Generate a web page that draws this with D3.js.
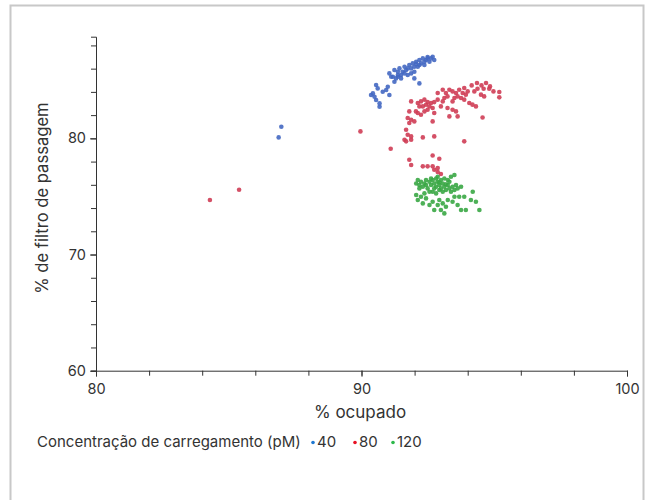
<!DOCTYPE html>
<html>
<head>
<meta charset="utf-8">
<script src="https://cdn.jsdelivr.net/npm/d3@7"></script>
<style>
  body { margin: 0; background: #fff; font-family: Inter, "Noto Sans", sans-serif; }
  svg text { fill: #333; }
</style>
</head>
<body>
<div id="chart"></div>
<script>
// loading concentration 40 pM: [% ocupado, % de filtro de passagem]
const conc40 = [
  [86.88, 80.08], [86.98, 81.0],
  [90.55, 84.59], [90.61, 84.30], [90.43, 83.87], [90.49, 83.58], [90.55, 83.30],
  [90.68, 83.01], [90.68, 82.72], [90.36, 83.73], [90.80, 84.01], [90.99, 84.44],
  [91.05, 83.73], [91.24, 84.87], [91.37, 85.30], [91.99, 85.16], [92.18, 84.73],
  [90.93, 84.16], [91.05, 85.59], [91.18, 85.30], [91.24, 85.88], [91.30, 85.16],
  [91.37, 85.73], [91.43, 86.02], [91.49, 85.45], [91.49, 85.16], [91.55, 85.73],
  [91.62, 86.16], [91.68, 85.88], [91.74, 85.45], [91.74, 86.02], [91.80, 86.31],
  [91.87, 86.02], [91.87, 85.59], [91.93, 86.45], [91.99, 85.73], [92.06, 86.60],
  [92.12, 86.16], [92.18, 86.74], [92.24, 86.45], [92.31, 86.88], [92.37, 86.31],
  [92.37, 86.60], [92.43, 86.74], [92.49, 86.88], [92.56, 86.60], [92.62, 86.88],
  [92.68, 87.03], [92.74, 86.74], [91.99, 86.16], [92.18, 86.31], [91.62, 85.59],
  [91.37, 85.45], [91.12, 85.30], [92.49, 87.0], [92.06, 86.40]
];

// 80 pM
const conc80 = [
  [84.29, 74.69], [85.39, 75.58], [89.96, 80.6], [91.1, 79.1],
  [94.15, 84.56], [94.35, 84.76], [94.52, 84.56], [94.69, 84.76], [94.84, 84.47],
  [94.97, 84.04], [94.81, 84.27], [94.60, 84.27], [94.37, 84.27], [94.25, 84.04],
  [95.19, 83.99], [95.19, 83.53], [94.50, 83.76], [94.62, 83.61], [92.87, 83.90],
  [93.06, 84.19], [93.18, 83.90], [93.31, 84.19], [93.43, 84.04], [93.56, 83.90],
  [93.68, 84.19], [93.81, 83.90], [93.87, 84.33], [93.93, 83.76], [94.00, 84.04],
  [93.62, 83.61], [93.50, 83.47], [93.75, 83.47], [93.43, 83.18], [93.87, 83.33],
  [94.06, 83.04], [94.18, 82.90], [94.31, 82.75], [93.12, 83.47], [93.24, 83.61],
  [92.87, 83.33], [93.06, 83.18], [92.99, 82.75], [93.24, 82.61], [93.43, 82.46],
  [93.56, 82.32], [93.31, 81.89], [93.62, 81.89], [94.56, 81.80], [93.87, 79.74],
  [91.87, 83.18], [92.12, 83.04], [92.24, 83.18], [92.37, 83.33], [92.49, 83.12],
  [92.62, 83.04], [92.74, 83.12], [92.18, 82.75], [92.31, 82.75], [92.43, 82.89],
  [92.56, 82.75], [92.68, 82.61], [92.05, 82.32], [92.12, 82.18], [92.24, 82.03],
  [92.37, 82.32], [92.49, 82.46], [91.80, 82.32], [91.74, 81.75], [91.87, 81.60],
  [91.99, 81.46], [91.80, 81.32], [91.68, 80.74], [91.74, 80.31], [91.62, 79.88],
  [91.68, 79.74], [91.87, 80.17], [91.87, 79.88], [92.31, 80.08], [92.74, 80.17],
  [92.68, 81.46], [92.74, 82.18], [91.80, 78.16], [92.68, 78.53], [92.93, 78.25],
  [92.31, 77.59], [92.49, 77.59], [92.68, 77.59], [92.74, 77.30], [92.87, 77.44],
  [91.87, 77.70], [92.99, 76.93], [92.87, 77.1]
];

// 120 pM
const conc120 = [
  [92.06, 76.12], [92.12, 76.41], [92.18, 75.98], [92.24, 76.26], [92.31, 75.84],
  [92.37, 76.12], [92.43, 75.98], [92.49, 75.69], [92.56, 76.26], [92.62, 75.98],
  [92.68, 76.41], [92.74, 76.12], [92.81, 75.84], [92.87, 76.26], [92.93, 75.98],
  [92.99, 75.69], [93.06, 76.12], [93.12, 75.84], [93.18, 75.55], [93.25, 75.98],
  [93.31, 75.69], [93.37, 75.40], [93.43, 75.84], [93.50, 75.55], [93.56, 75.98],
  [93.62, 75.69], [92.81, 76.55], [92.87, 76.70], [92.99, 76.41], [93.12, 76.55],
  [93.25, 76.41], [93.37, 76.70], [93.50, 76.84], [92.68, 75.40], [92.81, 75.26],
  [92.93, 75.55], [92.56, 75.40], [92.06, 75.12], [92.12, 74.69], [92.31, 74.40],
  [92.43, 74.83], [92.56, 74.26], [92.68, 74.54], [92.74, 73.83], [92.87, 74.26],
  [92.93, 74.69], [93.06, 74.40], [93.18, 74.11], [93.25, 74.69], [93.43, 74.54],
  [93.62, 74.26], [93.75, 73.83], [93.87, 74.97], [93.93, 73.83], [94.19, 75.40],
  [94.31, 74.54], [94.44, 73.83], [94.12, 74.69], [92.37, 75.26], [92.24, 74.97],
  [93.50, 74.97], [93.68, 74.97], [92.99, 73.83], [93.12, 73.54], [92.18, 75.69],
  [92.43, 76.41], [92.62, 76.55], [92.74, 75.69], [93.06, 75.40], [93.31, 76.26],
  [93.75, 75.84], [92.93, 76.20], [93.18, 76.05]
];

const xTicks = [80, 90, 100];
const yTicks = [60, 70, 80];
const legendLabels = ["40", "80", "120"];

const W = 650, H = 500;
const svg = d3.select("#chart").append("svg")
  .attr("width", W).attr("height", H);

// grey frame round the chart
svg.append("rect")
  .attr("x", 10.5).attr("y", 5.5)
  .attr("width", 633).attr("height", 520)
  .attr("fill", "none").attr("stroke", "#c8c8c8").attr("stroke-width", 2);

const x = d3.scaleLinear().domain([80, 100]).range([96, 627]);
const y = d3.scaleLinear().domain([60, 88.75]).range([370.7, 36.7]);

const axisColor = "#333";

// minor ticks every 2 units
svg.append("g")
  .attr("transform", `translate(0,${y(60)})`)
  .call(d3.axisBottom(x).tickValues(d3.range(80, 101, 2)).tickSize(5).tickFormat(""));
svg.append("g")
  .attr("transform", `translate(0,${y(60)})`)
  .call(d3.axisBottom(x).tickValues(xTicks).tickSize(6).tickPadding(7).tickSizeOuter(0))
  .call(g => g.select(".domain").remove())
  .selectAll("text").attr("font-size", 14.5).attr("font-family", "Inter, sans-serif");

svg.append("g")
  .attr("transform", `translate(${x(80)},0)`)
  .call(d3.axisLeft(y).tickValues(d3.range(60, 89, 2)).tickSize(5).tickFormat(""));
svg.append("g")
  .attr("transform", `translate(${x(80)},0)`)
  .call(d3.axisLeft(y).tickValues(yTicks).tickSize(6).tickPadding(4).tickSizeOuter(0))
  .call(g => g.select(".domain").remove())
  .selectAll("text").attr("font-size", 14.5).attr("font-family", "Inter, sans-serif");

svg.selectAll(".domain, .tick line").attr("stroke", axisColor);

// axis titles
svg.append("text")
  .attr("x", 360).attr("y", 418)
  .attr("text-anchor", "middle").attr("font-size", 17)
  .text("% ocupado");
svg.append("text")
  .attr("transform", "translate(48,198) rotate(-90)")
  .attr("text-anchor", "middle").attr("font-size", 16.6)
  .text("% de filtro de passagem");

// scatter points
const series = [
  { data: conc40, color: "#4468c2" },
  { data: conc80, color: "#cf3d55" },
  { data: conc120, color: "#3aa745" }
];
series.forEach(s => {
  svg.append("g").selectAll("circle")
    .data(s.data)
    .enter().append("circle")
    .attr("cx", d => x(d[0]))
    .attr("cy", d => y(d[1]))
    .attr("r", 2.3)
    .attr("fill", s.color)
    .attr("opacity", 0.9);
});

// legend
const legend = svg.append("g").attr("font-size", 15);
legend.append("text").attr("x", 37).attr("y", 447).text("Concentração de carregamento (pM)");
const legendColors = ["#1f78d1", "#e81123", "#2db84a"];
const legendX = [313, 355, 393];
legendLabels.forEach((lab, i) => {
  legend.append("circle")
    .attr("cx", legendX[i]).attr("cy", 442.5).attr("r", 1.8)
    .attr("fill", legendColors[i]);
  legend.append("text")
    .attr("x", legendX[i] + 4).attr("y", 447).text(lab);
});
</script>
</body>
</html>
